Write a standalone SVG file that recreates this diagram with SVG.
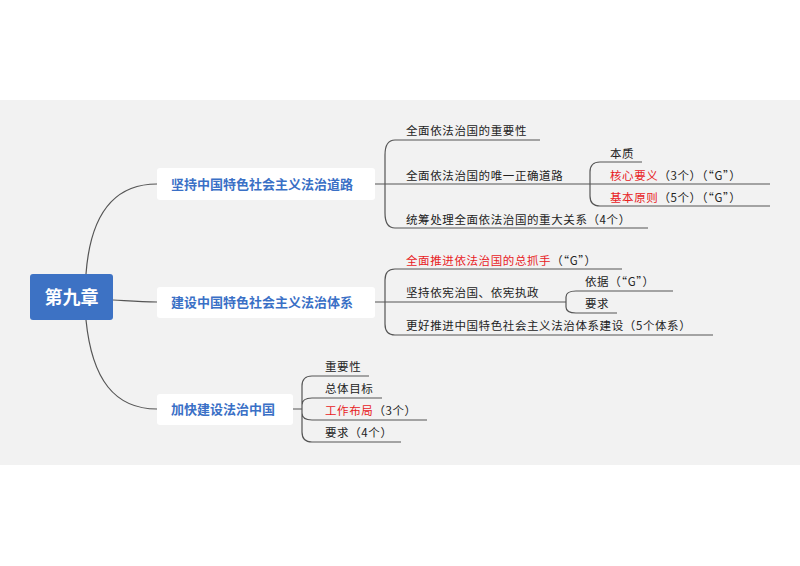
<svg xmlns="http://www.w3.org/2000/svg" width="800" height="566" viewBox="0 0 800 566">
<style>
.c{fill:none;stroke:#555;stroke-width:1.2}
.t{font-family:"Noto Sans CJK SC",sans-serif;font-size:11.5px;fill:#222;letter-spacing:0.6px}
.r{fill:#e8211e}
.b{font-family:"Noto Sans CJK SC",sans-serif;font-size:13px;font-weight:bold;fill:#3a70c6}
</style>
<rect x="0" y="100" width="800" height="365" fill="#f2f2f2"/>
<g id="connectors">
<path class="c" d="M86,274 C90,220 110,184 157,184"/>
<path class="c" d="M113,300 C130,301 140,302 157,302"/>
<path class="c" d="M86,320 C92,380 115,409 157,409"/>
<path class="c" d="M375,184 H385 M395,140 Q385,140 385,155 V213 Q385,228 395,228 M385,184 H577"/>
<path class="c" d="M395,140 H540 M395,228 H648"/>
<path class="c" d="M577,184 H590 M600,162 Q590,162 590,172 V196 Q590,206 600,206 M600,162 H642 M590,184 H770 M600,206 H770"/>
<path class="c" d="M375,302 H385 M395,269 Q385,269 385,280 V324 Q385,335 395,335 M385,302 H560 M395,269 H622 M395,335 H713"/>
<path class="c" d="M560,302 H566 M576,291 Q566,291 566,297 V307 Q566,313 576,313 M576,291 H673 M576,313 H617"/>
<path class="c" d="M293,409 H302 M312,376 Q302,376 302,386 V432 Q302,442 312,442 M312,376 H369 M312,398 Q302,398 302,405 M302,413 Q302,420 312,420 M312,398 H382 M312,420 H427 M312,442 H401"/>
</g>
<g id="root"><rect x="30" y="274" width="83" height="46" rx="3" fill="#3d72c4"/><text x="71.5" y="303.5" text-anchor="middle" font-family="Noto Sans CJK SC,sans-serif" font-size="18" font-weight="bold" fill="#fff">第九章</text></g>
<g id="b1"><rect x="157" y="168" width="218" height="32" rx="3" fill="#fff"/><text class="b" x="171" y="189">坚持中国特色社会主义法治道路</text></g>
<g id="b2"><rect x="157" y="287" width="218" height="31" rx="3" fill="#fff"/><text class="b" x="171" y="307">建设中国特色社会主义法治体系</text></g>
<g id="b3"><rect x="157" y="394" width="136" height="31" rx="3" fill="#fff"/><text class="b" x="171" y="414">加快建设法治中国</text></g>
<g id="n1"><text class="t" x="406" y="135">全面依法治国的重要性</text></g>
<g id="n2"><text class="t" x="406" y="180">全面依法治国的唯一正确道路</text></g>
<g id="n2a"><text class="t" x="610" y="158">本质</text></g>
<g id="n2b"><text class="t" x="610" y="180"><tspan class="r">核心要义</tspan>（3个）（“G”）</text></g>
<g id="n2c"><text class="t" x="610" y="202"><tspan class="r">基本原则</tspan>（5个）（“G”）</text></g>
<g id="n3"><text class="t" x="406" y="224">统筹处理全面依法治国的重大关系（4个）</text></g>
<g id="n4"><text class="t" x="406" y="265"><tspan class="r">全面推进依法治国的总抓手</tspan>（“G”）</text></g>
<g id="n5"><text class="t" x="406" y="297">坚持依宪治国、依宪执政</text></g>
<g id="n5a"><text class="t" x="585" y="286">依据（“G”）</text></g>
<g id="n5b"><text class="t" x="585" y="308">要求</text></g>
<g id="n6"><text class="t" x="406" y="330">更好推进中国特色社会主义法治体系建设（5个体系）</text></g>
<g id="n7"><text class="t" x="325" y="371">重要性</text></g>
<g id="n8"><text class="t" x="325" y="393">总体目标</text></g>
<g id="n9"><text class="t" x="325" y="415"><tspan class="r">工作布局</tspan>（3个）</text></g>
<g id="n10"><text class="t" x="325" y="437">要求（4个）</text></g>
</svg>
